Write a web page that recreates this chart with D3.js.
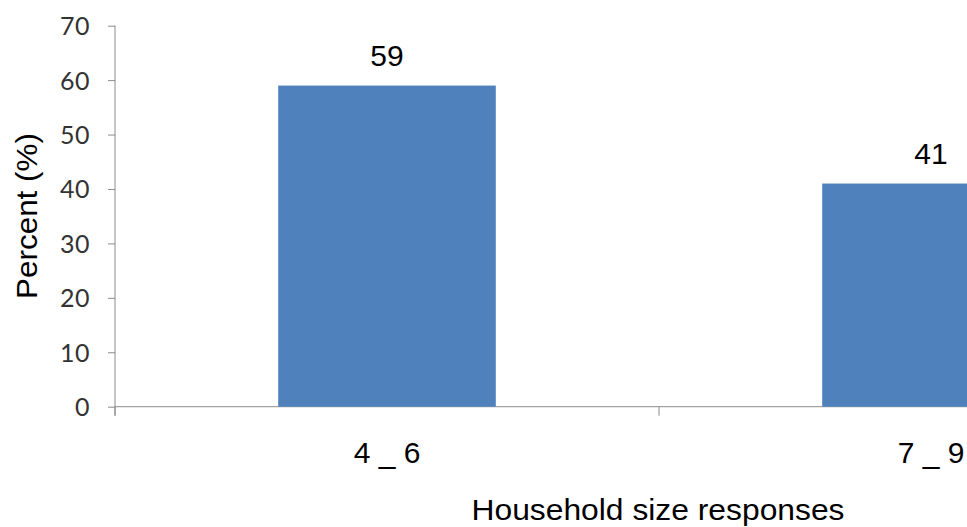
<!DOCTYPE html>
<html>
<head>
<meta charset="utf-8">
<script src="https://cdn.jsdelivr.net/npm/d3@7"></script>
<style>
  html, body { margin: 0; padding: 0; background: #fff; overflow: hidden; }
  svg { display: block; }
</style>
</head>
<body>
<svg id="chart" width="967" height="527"></svg>
<script>
// Household size groups and share of responses (%)
const categories = ["4 _ 6", "7 _ 9"];
const percents = [59, 41];
const yTicks = [0, 10, 20, 30, 40, 50, 60, 70];
const yTitle = "Percent (%)";
const xTitle = "Household size responses";

const svg = d3.select("#chart");
const x0 = 115, bandW = 544, yBase = 406.7, yTop = 25.7;
const labelFont = "'Liberation Sans', Arial, sans-serif";

const x = d3.scaleBand()
  .domain(categories)
  .range([x0, x0 + bandW * categories.length])
  .paddingInner(0.6).paddingOuter(0.3);

const y = d3.scaleLinear().domain([0, 70]).range([yBase, yTop]);

// y axis
const yAxis = svg.append("g").attr("transform", `translate(${x0},0)`)
  .call(d3.axisLeft(y).tickValues(yTicks).tickSize(7).tickPadding(18).tickFormat(d3.format("d")));
yAxis.select(".domain").attr("stroke", "#8c8c8c").attr("d", `M0,${yTop}V${yBase + 9}`);
yAxis.selectAll(".tick line").attr("stroke", "#8c8c8c");
yAxis.selectAll(".tick text")
  .attr("font-family", "Lato, 'Open Sans', sans-serif")
  .attr("font-size", 25).attr("fill", "#333").attr("dy", "0.36em")
  .attr("letter-spacing", 0.5);

// x axis baseline with ticks at category boundaries
const bounds = d3.range(categories.length + 1).map(i => x0 + i * bandW);
svg.append("line").attr("x1", x0).attr("x2", 967).attr("y1", yBase).attr("y2", yBase)
  .attr("stroke", "#8c8c8c");
svg.selectAll(".xb").data(bounds).join("line")
  .attr("x1", d => d).attr("x2", d => d)
  .attr("y1", yBase).attr("y2", yBase + 9).attr("stroke", "#8c8c8c");

// bars
svg.selectAll(".bar").data(categories).join("rect")
  .attr("x", d => x(d))
  .attr("width", x.bandwidth())
  .attr("y", (d, i) => y(percents[i]))
  .attr("height", (d, i) => yBase - y(percents[i]))
  .attr("fill", "#4f81bd");

// value labels
svg.selectAll(".val").data(categories).join("text")
  .attr("x", d => x(d) + x.bandwidth() / 2)
  .attr("y", (d, i) => y(percents[i]) - 20)
  .attr("text-anchor", "middle")
  .attr("font-family", labelFont)
  .attr("font-size", 30).attr("fill", "#000")
  .text((d, i) => percents[i]);

// category labels
svg.selectAll(".cat").data(categories).join("text")
  .attr("x", d => x(d) + x.bandwidth() / 2)
  .attr("y", 463)
  .attr("text-anchor", "middle")
  .attr("font-family", labelFont)
  .attr("font-size", 30).attr("fill", "#000")
  .text(d => d);

// axis titles
svg.append("text")
  .attr("x", 658).attr("y", 520)
  .attr("text-anchor", "middle")
  .attr("font-family", labelFont)
  .attr("font-size", 30).attr("fill", "#000")
  .attr("textLength", 373).attr("lengthAdjust", "spacingAndGlyphs")
  .text(xTitle);

svg.append("text")
  .attr("transform", "translate(37,216) rotate(-90)")
  .attr("text-anchor", "middle")
  .attr("font-family", labelFont)
  .attr("font-size", 30).attr("fill", "#000")
  .attr("textLength", 166).attr("lengthAdjust", "spacingAndGlyphs")
  .text(yTitle);
</script>
</body>
</html>
